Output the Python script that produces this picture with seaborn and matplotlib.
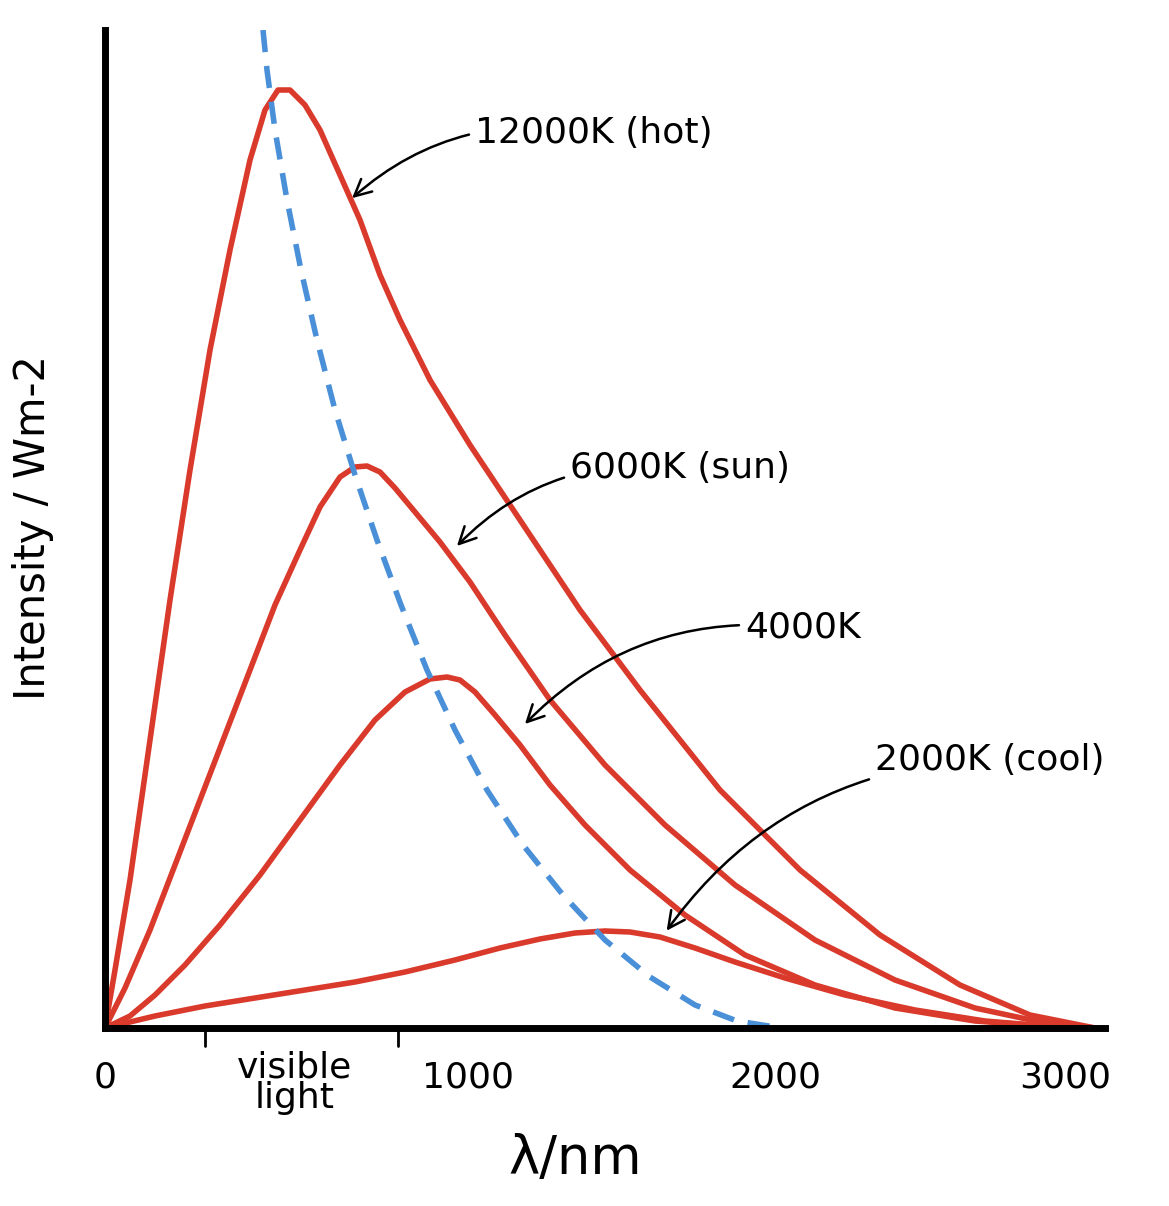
import matplotlib
matplotlib.use("Agg")
import matplotlib.pyplot as plt
import seaborn as sns

sns.set_style("white")
plt.rcParams['font.family'] = ['DejaVu Sans']

# curve values (wavelength position, intensity), arbitrary units
x_12000 = [0, 10, 25, 45, 65, 85, 105, 125, 145, 160, 173, 185, 200, 215, 235, 255, 275, 295,
           325, 365, 415, 475, 535, 615, 695, 775, 855, 925, 990]
y_12000 = [0, 58, 148, 288, 428, 558, 678, 778, 868, 918, 938, 938, 923, 898, 853, 808, 753, 708,
           648, 583, 508, 418, 338, 238, 158, 93, 43, 13, 0]
x_6000 = [0, 20, 45, 70, 95, 120, 145, 170, 195, 215, 235, 250, 262, 275, 290, 310, 335, 365,
          400, 445, 500, 560, 630, 710, 790, 870, 940, 990]
y_6000 = [0, 40, 98, 163, 228, 293, 358, 423, 478, 521, 551, 561, 562, 556, 540, 516, 486, 446,
          393, 328, 263, 203, 143, 88, 48, 20, 5, 0]
x_4000 = [0, 25, 50, 80, 115, 155, 195, 235, 270, 300, 325, 342, 355, 370, 390, 415, 445, 480,
          525, 580, 640, 710, 790, 870, 940, 990]
y_4000 = [0, 12, 33, 63, 103, 153, 208, 263, 308, 336, 349, 351, 348, 336, 313, 283, 243, 203,
          158, 113, 73, 43, 20, 7, 2, 0]
x_2000 = [0, 50, 100, 150, 200, 250, 300, 350, 395, 435, 470, 500, 525, 555, 590, 630, 680,
          740, 810, 880, 940, 990]
y_2000 = [0, 12, 22, 30, 38, 46, 56, 68, 80, 89, 95, 97, 96, 91, 80, 66, 50, 33, 18, 7, 2, 0]
x_peak = [158, 162, 170, 182, 196, 212, 230, 250, 272, 296, 322, 350, 382, 418, 458, 500,
          545, 590, 632, 670]
y_peak = [998, 958, 898, 828, 758, 688, 618, 553, 488, 423, 358, 298, 238, 183, 133, 88,
          51, 23, 7, 1]

tick_pos = [0, 363, 670, 960]
tick_labels = ["0", "1000", "2000", "3000"]

red = "#d93a2b"
blue = "#4a90d9"

fig = plt.figure(figsize=(11.69, 12.06), dpi=100)
ax = fig.add_axes([105/1169, (1206-1028)/1206, 1000/1169, 998/1206])

for xs, ys in [(x_12000, y_12000), (x_6000, y_6000), (x_4000, y_4000), (x_2000, y_2000)]:
    sns.lineplot(x=xs, y=ys, ax=ax, color=red, lw=4, sort=False)
sns.lineplot(x=x_peak, y=y_peak, ax=ax, color=blue, lw=4, sort=False, linestyle=(0, (4, 2.5)))

ax.set_xlim(0, 1000)
ax.set_ylim(0, 998)
ax.set_xticks([])
ax.set_yticks([])
for s in ["top", "right"]:
    ax.spines[s].set_visible(False)
for s in ["left", "bottom"]:
    ax.spines[s].set_linewidth(5)
    ax.spines[s].set_color("black")

# small visible-light ticks
for xt in [100, 293]:
    ax.plot([xt, xt], [0, -18], color="black", lw=2, clip_on=False)

fs = 26
for p, l in zip(tick_pos, tick_labels):
    ax.text(p, -32, l, ha="center", va="top", fontsize=fs, color="black")
ax.text(190, -22, "visible\nlight", ha="center", va="top", fontsize=fs, linespacing=0.9,
        color="black")
ax.text(470, -105, "λ/nm", ha="center", va="top", fontsize=38, color="black")
ax.text(-72, 500, "Intensity / Wm-2", rotation=90, ha="center", va="center", fontsize=30,
        color="black")

arrow = dict(arrowstyle="->", color="black", lw=1.8, mutation_scale=30,
             connectionstyle="arc3,rad=0.25")
ax.annotate("12000K (hot)", xy=(245, 828), xytext=(370, 895), fontsize=fs,
            va="center", arrowprops=arrow, color="black")
ax.annotate("6000K (sun)", xy=(350, 480), xytext=(465, 560), fontsize=fs,
            va="center", arrowprops=arrow, color="black")
ax.annotate("4000K", xy=(418, 302), xytext=(640, 400), fontsize=fs,
            va="center", arrowprops=arrow, color="black")
ax.annotate("2000K (cool)", xy=(560, 95), xytext=(770, 268), fontsize=fs,
            va="center", arrowprops=arrow, color="black")

fig.savefig("out.png", dpi=100)
